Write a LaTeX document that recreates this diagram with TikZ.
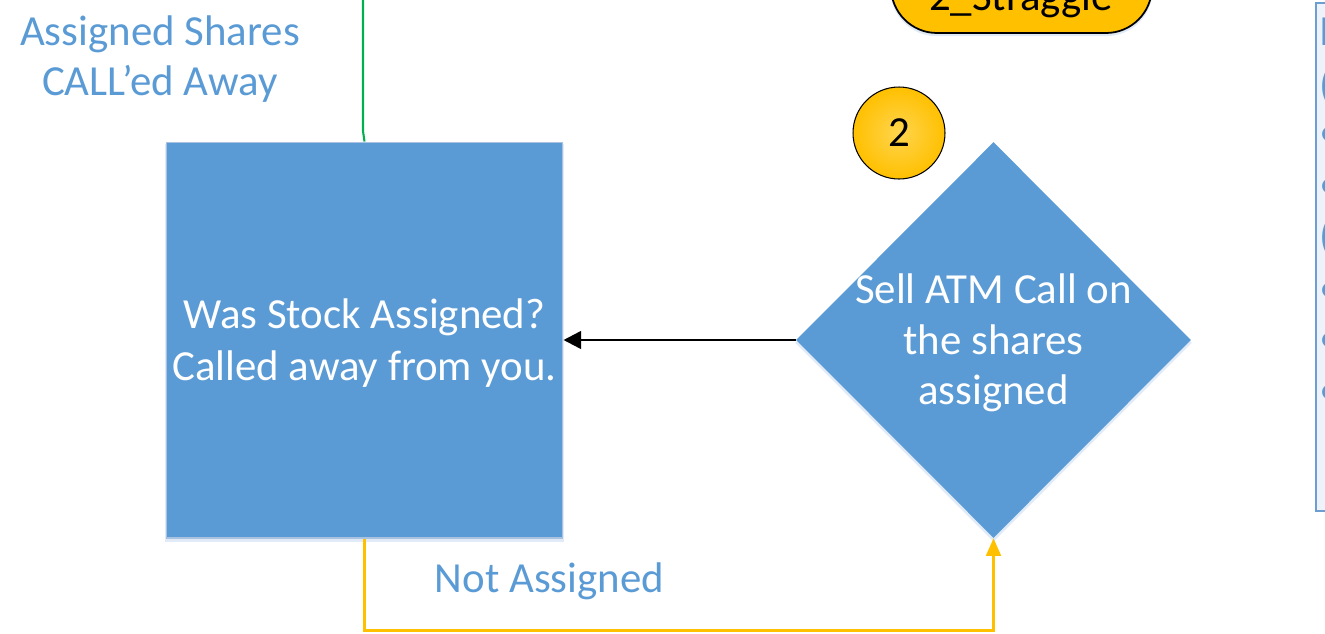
\documentclass[tikz,border=0pt]{standalone}
\usepackage{fontspec}
\setmainfont{Carlito}
\usetikzlibrary{shapes.geometric,arrows.meta,shadows}
\definecolor{boxblue}{HTML}{5B9BD5}
\definecolor{boxedge}{HTML}{A9C2E2}
\definecolor{labelblue}{HTML}{5B9BD5}
\definecolor{flowgreen}{HTML}{00B050}
\definecolor{flowgold}{HTML}{FFC000}
\definecolor{goldlight}{HTML}{FFD54F}
\definecolor{glowc}{HTML}{A8C4E8}
\definecolor{panelfill}{HTML}{EEF2FA}
\definecolor{paneledge}{HTML}{6E9DCF}

\begin{document}
\begin{tikzpicture}[x=0.02cm,y=-0.02cm,
  txt/.style={font=\fontsize{24.4}{28.6}\selectfont, inner sep=0pt},
  glow/.style={general shadow={shadow yshift=-1.6pt, shadow scale=1.005, fill=glowc, opacity=0.35}},
  bluebox/.style={rectangle, fill=boxblue, draw=boxedge, line width=0.6pt, inner sep=0pt, glow},
  bluediamond/.style={diamond, fill=boxblue, draw=none, inner sep=0pt, glow},
  whitetext/.style={txt, text=white, align=center},
  labeltext/.style={txt, text=labelblue, align=center},
  badge/.style={circle, draw=black, line width=0.6pt, inner sep=0pt,
    minimum size=1.84cm, shading=radial, inner color=goldlight, outer color=flowgold},
  terminator/.style={rectangle, draw=black, line width=1pt, fill=flowgold,
    rounded corners=0.92cm, inner sep=0pt, glow},
  panel/.style={rectangle, draw=paneledge, line width=1.2pt, fill=panelfill, inner sep=0pt},
  panelglyph/.style={txt, text=labelblue, anchor=west},
  blackarrow/.style={draw=black, line width=1.4pt, -{Triangle[length=10pt,width=10pt]}},
  goldline/.style={draw=flowgold, line width=1.2pt, -{Triangle[length=10pt,width=8.5pt]}},
  greenline/.style={draw=flowgreen, line width=1.2pt}
]
\useasboundingbox (0,0) rectangle (1325,633);
\clip (0,0) rectangle (1325,633);

% strategy tag running off the top
\node[terminator, minimum width=5.22cm, minimum height=2.26cm] (strag) at (1021.5,-23.5) {};
\node[txt, anchor=base] (stragtext) at (1021,10) {2\_Straggle};

% notes panel running off the right
\node[panel, anchor=north west, minimum width=2cm, minimum height=10.16cm] (panel) at (1315,2) {};
\foreach \yy/\gl [count=\i] in {32/I, 87/(, 137/•, 189/•, 238/(, 293/•, 343/•, 395/•}
  \node[panelglyph] (pg\i) at (1319,\yy) {\gl};

% main decision box
\node[bluebox, minimum width=7.94cm, minimum height=7.92cm] (box) at (364.5,340) {};
\node[whitetext, font=\fontsize{24.4}{29.6}\selectfont] (boxtext) at (364.5,343)
  {Was Stock Assigned?\\Called away from you.};

% call-selling step
\node[bluediamond, minimum width=7.9cm, minimum height=7.92cm] (dec) at (993.5,340) {};
\node[whitetext] (dectext) at (993.5,343) {Sell ATM Call on\\the shares\\assigned};

% step number
\node[badge, txt, minimum size=1.84cm] (b2) at (899,133) {2};

% labels
\node[labeltext] (lblcalled) at (160,59) {Assigned Shares\\CALL’ed Away};
\node[labeltext] (lblnot) at (549.5,581) {Not Assigned};

% connectors
\coordinate (gtop) at (363,0);
\draw[greenline] (gtop) -- (363,131) -- (box.north);
\draw[blackarrow] (dec.west) -- (box.east);
\draw[goldline] (box.south) -- ++(0,92) -| (dec.south);
\end{tikzpicture}
\end{document}
